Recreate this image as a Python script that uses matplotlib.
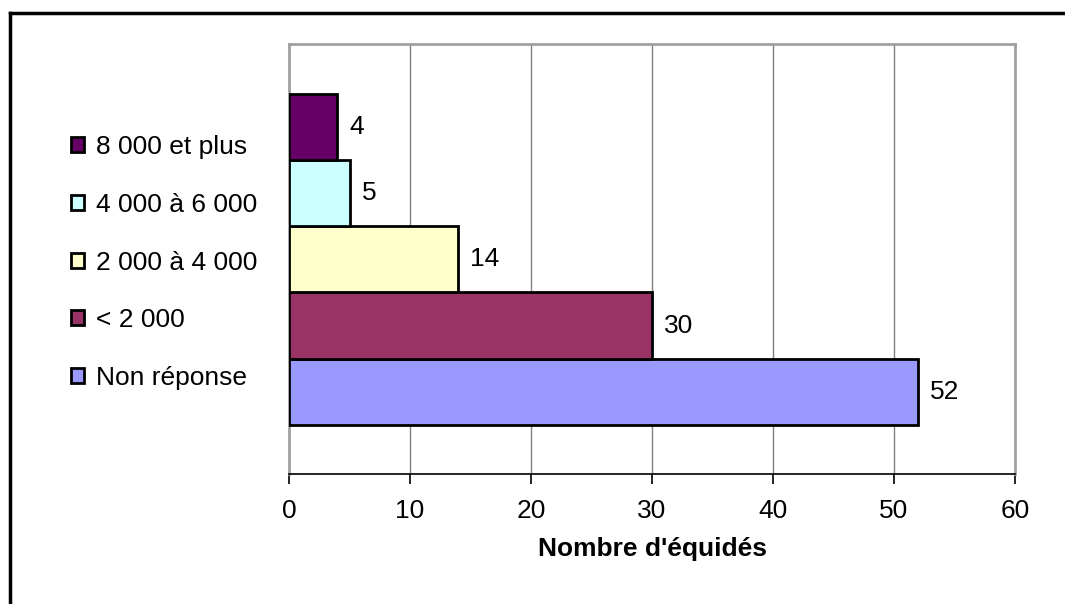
import matplotlib
matplotlib.use("Agg")
import matplotlib.pyplot as plt
from matplotlib.patches import Patch

categories = ["Non réponse", "< 2 000", "2 000 à 4 000", "4 000 à 6 000", "8 000 et plus"]
values = [52, 30, 14, 5, 4]
colors = ["#9999FF", "#993366", "#FFFFCC", "#CCFFFF", "#660066"]
xticks = [0, 10, 20, 30, 40, 50, 60]

plt.rcParams['font.family'] = ['Liberation Sans', 'DejaVu Sans']
FS = 19

W, H = 1065, 604
fig = plt.figure(figsize=(W / 100, H / 100), dpi=100)
ax = fig.add_axes([289 / W, 1 - 474 / H, (1015 - 289) / W, (474 - 44) / H])

pos = list(range(len(categories)))
ax.barh(pos, values, height=1.0, color=colors, edgecolor="black", linewidth=2, zorder=3)
for p, v in zip(pos, values):
    ax.text(v + 1.0, p, str(v), va="center", ha="left", fontsize=FS)

ax.set_xlim(0, 60)
ax.set_ylim(-1.24, 5.25)
ax.set_xticks(xticks)
ax.set_yticks([])
ax.xaxis.grid(True, color="#808080", linewidth=1)
ax.set_axisbelow(True)
ax.tick_params(axis="x", labelsize=FS, length=7, width=1.2, direction="out", pad=11, color="black")
for s in ["top", "left", "right"]:
    ax.spines[s].set_color("#a0a0a0")
    ax.spines[s].set_linewidth(2)
ax.spines["bottom"].set_color("black")
ax.spines["bottom"].set_linewidth(1.2)
ax.set_xlabel("Nombre d'équidés", fontsize=FS, fontweight="bold", labelpad=10)

handles = [Patch(facecolor=c, edgecolor="black", linewidth=2) for c in colors][::-1]
labels = categories[::-1]
fig.legend(handles, labels, loc="upper left", bbox_to_anchor=(71 / W, 1 - 135 / H),
           frameon=False, fontsize=FS, handlelength=0.5, handleheight=0.5,
           handletextpad=0.45, labelspacing=1.28, borderpad=0, borderaxespad=0)

# outer frame (left and top edges visible)
fig.add_artist(plt.Line2D([10 / W, 10 / W], [0, 1 - 13 / H], color="black", linewidth=2.5,
                          transform=fig.transFigure))
fig.add_artist(plt.Line2D([10 / W, 1], [1 - 13 / H, 1 - 13 / H], color="black", linewidth=2.5,
                          transform=fig.transFigure))

fig.savefig("out.png", dpi=100)
